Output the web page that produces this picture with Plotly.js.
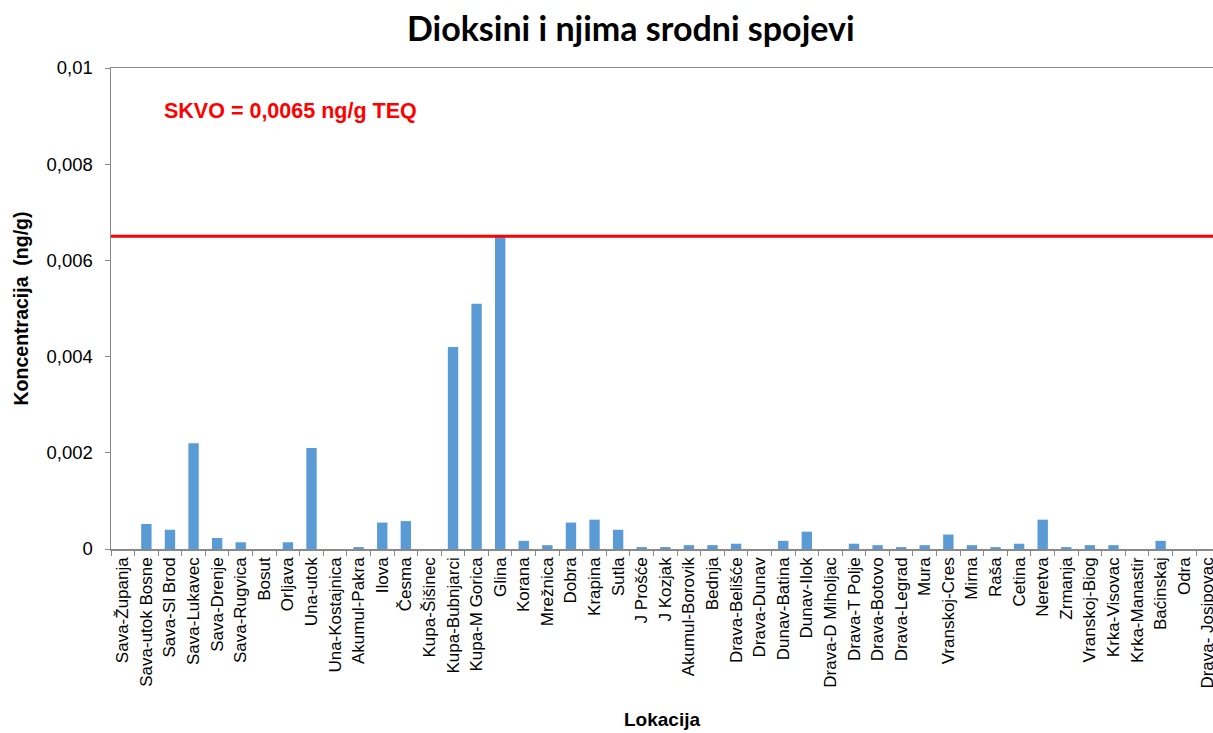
<!DOCTYPE html>
<html>
<head>
<meta charset="utf-8">
<script src="https://cdn.plot.ly/plotly-3.0.1.min.js"></script>
<style>html,body{margin:0;padding:0;background:#fff;}#chart{width:1213px;height:733px;}</style>
</head>
<body>
<div id="chart"></div>
<script>
const locations = ["Sava-Županja","Sava-utok Bosne","Sava-Sl Brod","Sava-Lukavec","Sava-Drenje","Sava-Rugvica","Bosut","Orljava","Una-utok","Una-Kostajnica","Akumul-Pakra","Ilova","Česma","Kupa-Šišinec","Kupa-Bubnjarci","Kupa-M Gorica","Glina","Korana","Mrežnica","Dobra","Krapina","Sutla","J Prošće","J Kozjak","Akumul-Borovik","Bednja","Drava-Belišće","Drava-Dunav","Dunav-Batina","Dunav-Ilok","Drava-D Miholjac","Drava-T Polje","Drava-Botovo","Drava-Legrad","Mura","Vranskoj-Cres","Mirna","Raša","Cetina","Neretva","Zrmanja","Vranskoj-Biog","Krka-Visovac","Krka-Manastir","Baćinskaj","Odra","Drava- Josipovac"];
const concentrations = [0,0.00052,0.0004,0.0022,0.00023,0.00014,0,0.00014,0.0021,0,0.00004,0.00055,0.00058,0,0.0042,0.0051,0.0065,0.00017,0.00008,0.00055,0.00061,0.0004,0.00004,0.00004,0.00008,0.00008,0.00011,0,0.00017,0.00036,0,0.00011,0.00008,0.00004,0.00008,0.0003,0.00008,0.00004,0.00011,0.00061,0.00004,0.00008,0.00008,0,0.00017,0,0];
const skvo = 0.0065;
const skvoLabel = "SKVO = 0,0065 ng/g TEQ";
const yTickVals = [0,0.002,0.004,0.006,0.008,0.01];
const yTickText = ["0","0,002","0,004","0,006","0,008","0,01"];

const trace = {
  type: 'bar',
  x: locations,
  y: concentrations,
  marker: {color: '#5B9BD5'},
  hoverinfo: 'x+y'
};

const FONT = 'Arial';
const AXIS = '#898989';

const layout = {
  width: 1213, height: 733,
  margin: {l: 111, r: 0, t: 68, b: 184},
  paper_bgcolor: '#fff', plot_bgcolor: '#fff',
  bargap: 0.56,
  showlegend: false,
  font: {family: FONT, color: '#000', size: 16},
  title: {
    text: '<b>Dioksini i njima srodni spojevi</b>',
    font: {family: 'Lato', size: 34, color: '#000'},
    x: 0.52, xanchor: 'center', y: 0.96, yanchor: 'middle'
  },
  xaxis: {
    type: 'category',
    range: [-0.5, 46.22],
    tickangle: -90,
    tickfont: {size: 17, family: FONT},
    ticks: 'outside', ticklen: 5, tickcolor: AXIS,
    tickson: 'boundaries',
    showline: true, linecolor: AXIS, linewidth: 1.5,
    mirror: true,
    showgrid: false, zeroline: false,
    automargin: false,
    title: {text: '<b>Lokacija</b>', font: {size: 19, family: FONT}, standoff: 25}
  },
  yaxis: {
    range: [0, 0.01],
    tickvals: yTickVals, ticktext: yTickText,
    tickfont: {size: 18.5, family: FONT},
    ticks: 'outside', ticklen: 5, tickcolor: AXIS,
    ticklabelstandoff: 8,
    showline: true, linecolor: AXIS, linewidth: 1.5,
    showgrid: false, zeroline: false,
    automargin: false,
    title: {text: '<b>Koncentracija  (ng/g)</b>', font: {size: 19.5, family: FONT}, standoff: 12}
  },
  shapes: [{
    type: 'line', xref: 'paper', x0: 0, x1: 1, yref: 'y', y0: skvo, y1: skvo,
    line: {color: '#FF0000', width: 3}
  }],
  annotations: [{
    text: '<b>' + skvoLabel + '</b>',
    xref: 'paper', yref: 'y', x: 0.046, y: 0.0091, xanchor: 'left', yanchor: 'middle',
    showarrow: false,
    font: {color: '#FF0000', size: 21.5, family: FONT}
  }]
};

Plotly.newPlot('chart', [trace], layout, {displayModeBar: false, staticPlot: true});
</script>
</body>
</html>
